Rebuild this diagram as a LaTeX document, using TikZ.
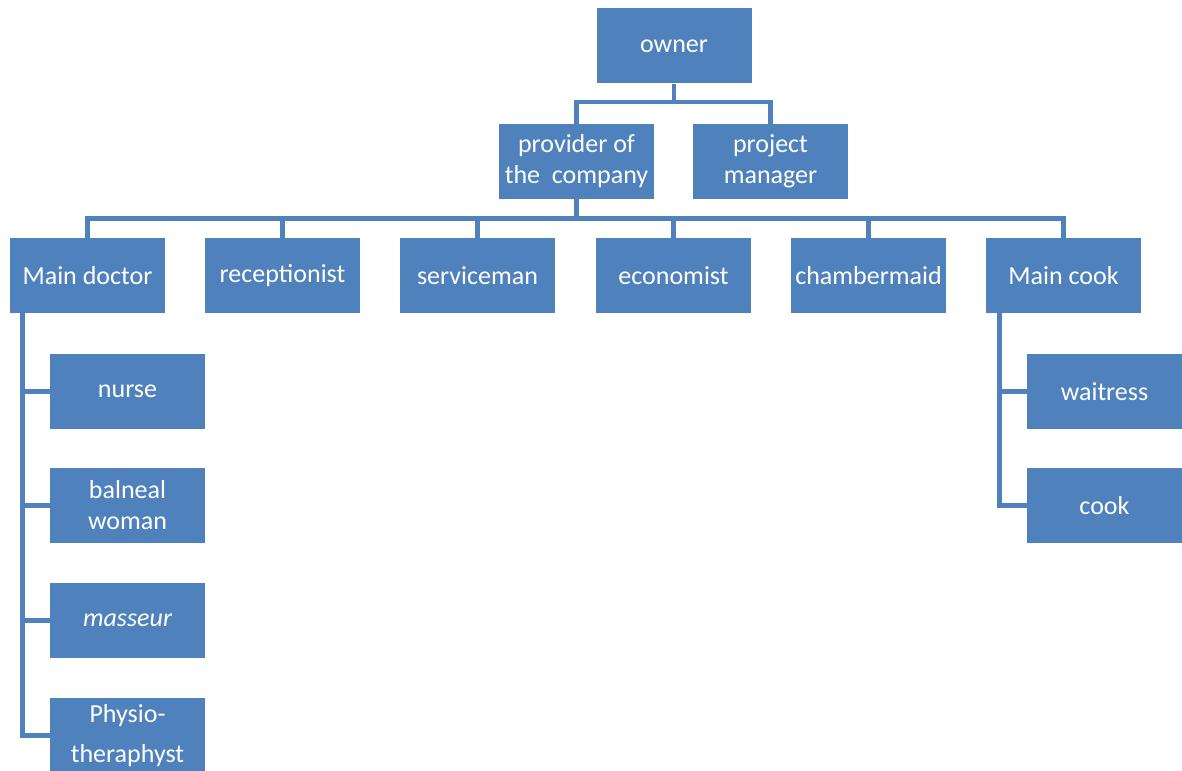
\documentclass[tikz,border=0pt]{standalone}
\usepackage{fontspec}
\setmainfont{Carlito}
\definecolor{officeblue}{HTML}{4F81BD}

\begin{document}
\begin{tikzpicture}[
    box/.style={fill=officeblue, text=white, minimum width=3.1cm, minimum height=1.5cm,
        inner sep=0pt, align=center, font=\fontsize{14.8}{17.6}\selectfont},
    link/.style={draw=officeblue, line width=2.6pt}]
    \useasboundingbox (0,0) rectangle (23.64,-15.42);

	%top
	\node (owner) at (13.48,-0.92) [box] {owner};
	\node (provider) at (11.53,-3.23) [box] {provider of\\the\ \ company};
	\node (project) at (15.41,-3.23) [box] {project\\manager};

	\path (owner.south) ++(0,-0.36) coordinate (ownbus);
	\draw[link] (owner.south) -- (ownbus);
	\draw[link] (provider.north) |- (ownbus) -| (project.north);

	%staff
	\node (doctor) at (1.75,-5.51) [box] {Main doctor};
	\node (recep) at (5.65,-5.51) [box] {receptionist};
	\node (service) at (9.55,-5.51) [box] {serviceman};
	\node (econ) at (13.47,-5.51) [box] {economist};
	\node (maid) at (17.37,-5.51) [box] {chambermaid};
	\node (maincook) at (21.27,-5.51) [box] {Main cook};

	\path (provider.south) ++(0,-0.38) coordinate (provbus);
	\draw[link] (provider.south) -- (provbus);
	\draw[link] (doctor.north) |- (provbus);
	\draw[link] (recep.north) |- (provbus);
	\draw[link] (service.north) |- (provbus);
	\draw[link] (econ.north) |- (provbus);
	\draw[link] (maid.north) |- (provbus);
	\draw[link] (maincook.north) |- (provbus);

	%doctor
	\node (nurse) at (2.55,-7.83) [box] {nurse};
	\node (balneal) at (2.55,-10.11) [box] {balneal\\woman};
	\node (masseur) at (2.55,-12.41) [box] {\itshape masseur};
	\node (physio) at (2.55,-14.71) [box] {Physio-\\[5pt]theraphyst};

	\coordinate (doctop) at ([xshift=0.26cm]doctor.south west);
	\draw[link] (doctop) |- (physio.west);
	\draw[link] (nurse.west) -- (nurse.west -| doctop);
	\draw[link] (balneal.west) -- (balneal.west -| doctop);
	\draw[link] (masseur.west) -- (masseur.west -| doctop);

	%cook
	\node (waitress) at (22.09,-7.83) [box] {waitress};
	\node (cook) at (22.09,-10.11) [box] {cook};

	\coordinate (cooktop) at ([xshift=0.28cm]maincook.south west);
	\draw[link] (cooktop) |- (cook.west);
	\draw[link] (waitress.west) -- (waitress.west -| cooktop);

\end{tikzpicture}
\end{document}
